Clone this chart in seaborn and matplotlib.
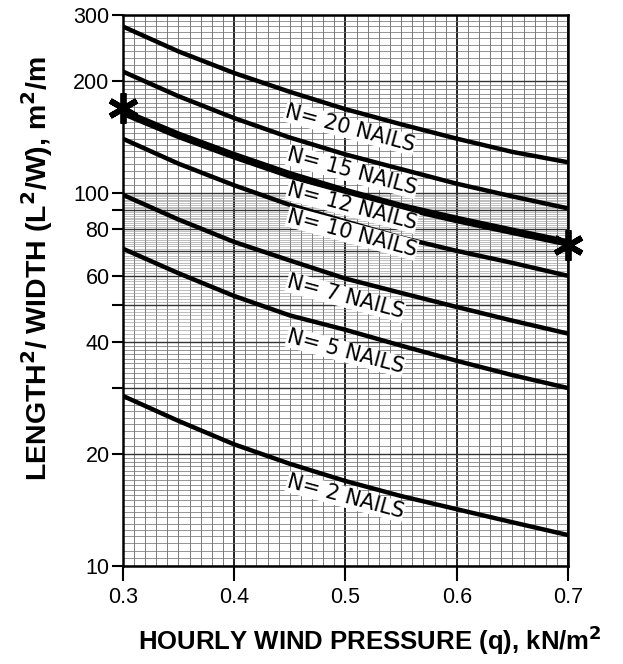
import numpy as np
import pandas as pd
import seaborn as sns
import matplotlib.pyplot as plt
from matplotlib.ticker import FixedLocator, NullFormatter

# pressure values (kN/m2)
q = [0.30, 0.35, 0.40, 0.45, 0.50, 0.55, 0.60, 0.65, 0.70]

# L^2/W for each number of nails
n20 = [280, 240, 210, 187, 168, 153, 140, 129, 121]
n15 = [212, 182, 159, 141, 127, 116, 106, 98, 91]
n12 = [165, 143, 126, 112, 101, 92, 85, 79, 73.5]
n10 = [140, 120, 105, 93, 84, 76, 70, 65, 60]
n7 = [99, 85, 74, 66, 59, 54, 49.5, 45.5, 42]
n5 = [71, 61, 53, 47, 43, 39, 35.5, 32.5, 30]
n2 = [28.6, 24.5, 21.2, 18.8, 16.9, 15.4, 14.2, 13.1, 12.1]

nails = [20, 15, 12, 10, 7, 5, 2]
curves = [n20, n15, n12, n10, n7, n5, n2]
# where each label sits (q, L^2/W)
label_q = [0.504, 0.506, 0.506, 0.506, 0.50, 0.50, 0.50]
label_y = [149, 114, 92, 78, 52.6, 37.5, 15.3]

# the two asterisks on the N=12 line
star_q = [0.30, 0.70]
star_y = [169, 72.5]

yticks = [10, 20, 40, 60, 80, 100, 200, 300]
ytick_extra = [30, 50, 90]
xticks = [0.3, 0.4, 0.5, 0.6, 0.7]

df = pd.DataFrame({
    'q': q * len(nails),
    'ratio': sum(curves, []),
    'N': np.repeat(nails, len(q)),
})

sns.set_style('ticks')
plt.rcParams['font.family'] = ['Liberation Sans', 'DejaVu Sans']
plt.rcParams['text.color'] = 'black'
plt.rcParams['axes.labelcolor'] = 'black'
plt.rcParams['xtick.color'] = 'black'
plt.rcParams['ytick.color'] = 'black'

fig = plt.figure(figsize=(6.23, 6.64), dpi=100)
ax = fig.add_axes([0.197, 0.1476, 0.715, 0.8294])
ax.set_yscale('log')
ax.set_xlim(0.3, 0.7)
ax.set_ylim(10, 300)

# graph paper grid
fine_x = np.round(np.arange(0.30, 0.7001, 0.01), 3)
for v in fine_x:
    if abs(v * 10 - round(v * 10)) < 1e-6:
        lw, c = 1.3, '#111111'
    else:
        lw, c = 0.6, '#666666'
    ax.axvline(v, color=c, lw=lw, zorder=0)
fine_y = list(np.arange(10, 20, 0.5)) + list(np.arange(20, 40, 1)) + \
    list(np.arange(40, 100, 1)) + list(np.arange(100, 200, 5)) + list(np.arange(200, 301, 10))
for v in fine_y:
    if v in (10, 20, 30, 40, 50, 60, 70, 80, 90, 100, 200, 300):
        lw, c = 1.0, '#333333'
    elif 40 < v < 100:
        lw, c = 0.45, '#999999'
    else:
        lw, c = 0.55, '#777777'
    ax.axhline(v, color=c, lw=lw, zorder=0)

for n in nails:
    sub = df[df['N'] == n]
    sns.lineplot(data=sub, x='q', y='ratio', ax=ax, color='black',
                 lw=5.5 if n == 12 else 3.2, zorder=3, legend=False)

for n, lq, ly in zip(nails, label_q, label_y):
    ax.text(lq, ly, f'N= {n} NAILS', fontsize=15, rotation=-15,
            family='DejaVu Sans', rotation_mode='anchor', ha='center',
            va='center', zorder=4,
            bbox=dict(facecolor='white', edgecolor='none', pad=0.3))

ax.plot(star_q, star_y, ls='none', marker=(6, 2, 0), ms=22, mew=4.2,
        color='black', zorder=5, clip_on=False)

ax.yaxis.set_major_locator(FixedLocator(yticks))
ax.yaxis.set_major_formatter(plt.FuncFormatter(lambda v, p: f'{v:g}'))
ax.yaxis.set_minor_locator(FixedLocator(ytick_extra))
ax.yaxis.set_minor_formatter(NullFormatter())
ax.set_xticks(xticks)
ax.set_xticklabels([f'{v:.1f}' for v in xticks])
ax.tick_params(axis='both', which='major', width=1.5,
               labelsize=15.5, direction='out')
ax.tick_params(axis='x', length=11, pad=4)
ax.tick_params(axis='y', length=8, pad=1.5)
ax.tick_params(axis='y', which='minor', length=8, width=1.5)
for s in ax.spines.values():
    s.set_linewidth(1.8)
    s.set_color('black')
    s.set_zorder(6)

ax.set_xlabel(r'HOURLY WIND PRESSURE (q), kN/m$^\mathbf{2}$',
              fontsize=18.5, fontweight='bold')
ax.set_ylabel(r'LENGTH$^\mathbf{2}$/ WIDTH (L$^\mathbf{2}$/W), m$^\mathbf{2}$/m',
              fontsize=20.5, fontweight='bold')
ax.xaxis.set_label_coords(0.555, -0.105)
ax.yaxis.set_label_coords(-0.152, 0.54)

fig.savefig('out.png', dpi=100)
